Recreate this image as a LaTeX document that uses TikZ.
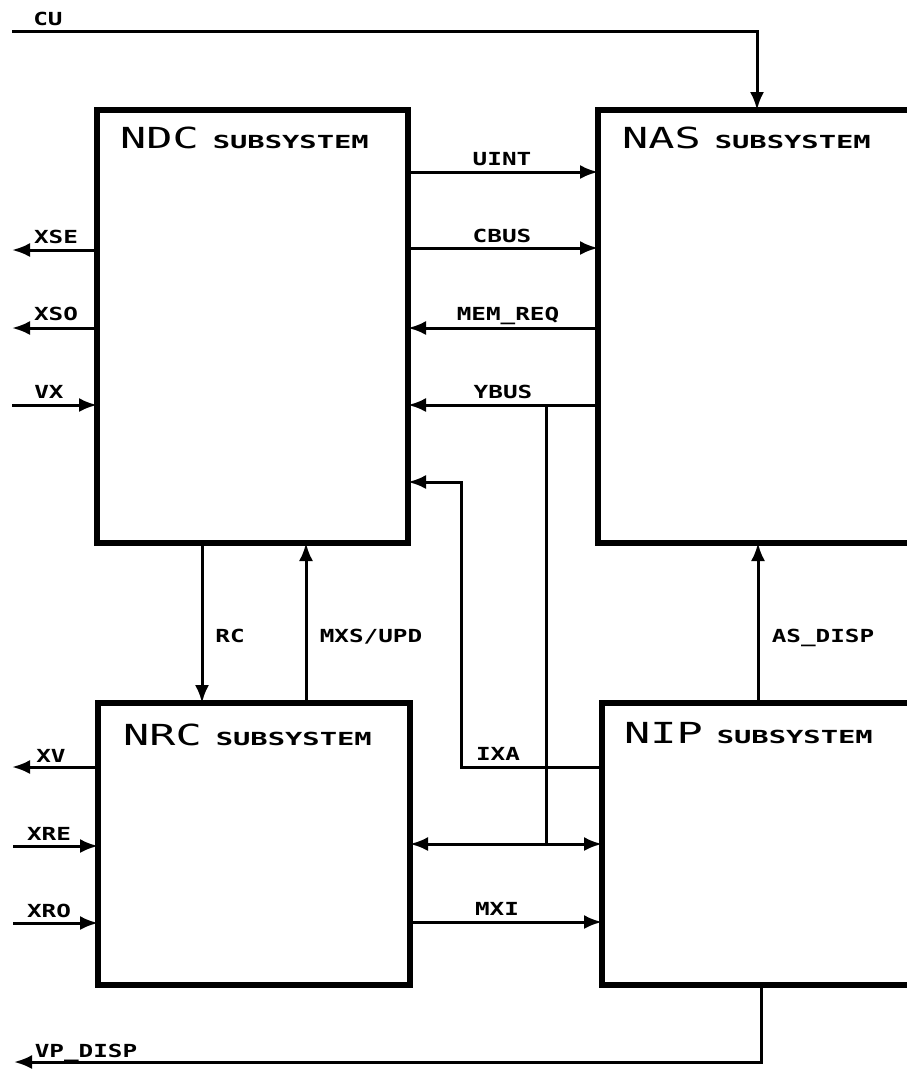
\documentclass[tikz,border=0pt]{standalone}
\usepackage{fontspec}
\usepackage{graphicx}
\usetikzlibrary{arrows.meta}
\newfontfamily\monofont{DejaVu Sans Mono}
\newcommand\ttl[1]{\scalebox{1.5}[1]{\fontsize{29}{30}\selectfont\monofont #1}}
\newcommand\subsy{\scalebox{1.6}[1]{\fontsize{18}{19}\selectfont\monofont\bfseries SUBSYSTEM}}
\newcommand\lbl[1]{\scalebox{1.35}[1]{\fontsize{18}{19}\selectfont\monofont\bfseries #1}}
\begin{document}
\begin{tikzpicture}[x=1pt,y=-1pt,
  box/.style={draw,line width=5.5pt,minimum width=#1,inner sep=0pt,outer sep=0pt},
  wire/.style={line width=3pt},
  arr/.style={wire,-{Latex[length=18pt,width=14pt]}},
  biarr/.style={wire,{Latex[length=18pt,width=14pt]}-{Latex[length=18pt,width=14pt]}},
  lab/.style={anchor=base,inner sep=0pt},
  title/.style={anchor=base west,inner sep=0pt}]
\useasboundingbox (0,0) rectangle (907,1069);
% boxes
\node[box=311pt,minimum height=433pt] (ndc) at (252.5,326.5) {};
\node[box=332pt,minimum height=433pt] (nas) at (764,326.5) {};
\node[box=312pt,minimum height=282pt] (nrc) at (254,844) {};
\node[box=328pt,minimum height=282pt] (nip) at (766,844) {};
% titles
\node[title] (ndct) at (120,148) {\ttl{NDC}\hspace{14pt}\subsy};
\node[title] (nast) at (622,148) {\ttl{NAS}\hspace{14pt}\subsy};
\node[title] (nrct) at (123,745) {\ttl{NRC}\hspace{14pt}\subsy};
\node[title] (nipt) at (624,743) {\ttl{NIP}\hspace{14pt}\subsy};
% level coordinates
\coordinate (cuL) at (12,31);
\coordinate (cuC) at (757,31);
\coordinate (yUINT) at (0,172);
\coordinate (yCBUS) at (0,248);
\coordinate (yXSE) at (0,250);
\coordinate (yMEM) at (0,328);
\coordinate (yYBUS) at (0,405);
\coordinate (yIXAin) at (0,482);
\coordinate (xRC) at (202,0);
\coordinate (xMXS) at (306,0);
\coordinate (xAS) at (758,0);
\coordinate (xUP) at (761,0);
\coordinate (yXV) at (0,767);
\coordinate (yBI) at (0,844);
\coordinate (yXRE) at (0,846);
\coordinate (yMXI) at (0,922);
\coordinate (yXRO) at (0,923);
\coordinate (xsoL) at (12,328);
\coordinate (xseL) at (12,250);
\coordinate (uxL) at (12,405);
\coordinate (xvL) at (12,767);
\coordinate (xreL) at (13,846);
\coordinate (xroL) at (13,923);
\coordinate (upY) at (761,1062);
\coordinate (upL) at (14,1062);
\coordinate (ybT) at (546,405);
\coordinate (ybB) at (546,844);
\coordinate (ixaA) at (461,767);
\coordinate (ixaB) at (461,482);
% CU
\draw[arr] (cuL) -- (cuC) -- (cuC |- nas.north);
% NDC <-> NAS
\draw[arr] (ndc.east |- yUINT) -- (nas.west |- yUINT);
\draw[arr] (ndc.east |- yCBUS) -- (nas.west |- yCBUS);
\draw[arr] (nas.west |- yMEM) -- (ndc.east |- yMEM);
\draw[arr] (nas.west |- yYBUS) -- (ndc.east |- yYBUS);
\draw[wire] (ybT) -- (ybB);
% NDC left side
\draw[arr] (ndc.west |- yXSE) -- (xseL);
\draw[arr] (ndc.west |- yMEM) -- (xsoL);
\draw[arr] (uxL) -- (ndc.west |- yYBUS);
% NDC <-> NRC
\draw[arr] (xRC |- ndc.south) -- (xRC |- nrc.north);
\draw[arr] (xMXS |- nrc.north) -- (xMXS |- ndc.south);
% NIP -> NAS
\draw[arr] (xAS |- nip.north) -- (xAS |- nas.south);
% IXA
\draw[arr] (nip.west |- yXV) -- (ixaA) -- (ixaB) -- (ndc.east |- yIXAin);
% NRC <-> NIP
\draw[biarr] (nrc.east |- yBI) -- (nip.west |- yBI);
\draw[arr] (nrc.east |- yMXI) -- (nip.west |- yMXI);
% NRC left side
\draw[arr] (nrc.west |- yXV) -- (xvL);
\draw[arr] (xreL) -- (nrc.west |- yXRE);
\draw[arr] (xroL) -- (nrc.west |- yXRO);
% VP_DISP
\draw[arr] (xUP |- nip.south) -- (upY) -- (upL);
% labels
\node[lab] (lcu) at (48,25) {\lbl{CU}};
\node[lab] (luint) at (502,165) {\lbl{UINT}};
\node[lab] (lcbus) at (502,242) {\lbl{CBUS}};
\node[lab] (lxse) at (56,243) {\lbl{XSE}};
\node[lab] (lxso) at (56,320) {\lbl{XSO}};
\node[lab] (lux) at (49,398) {\lbl{VX}};
\node[lab] (lmem) at (508,320) {\lbl{MEM\_REQ}};
\node[lab] (lybus) at (503,398) {\lbl{YBUS}};
\node[lab] (lrc) at (230,642) {\lbl{RC}};
\node[lab] (lmxs) at (371,642) {\lbl{MXS/UPD}};
\node[lab] (las) at (823,642) {\lbl{AS\_DISP}};
\node[lab] (lixa) at (498,760) {\lbl{IXA}};
\node[lab] (lmxi) at (497,915) {\lbl{MXI}};
\node[lab] (lxv) at (51,762) {\lbl{XV}};
\node[lab] (lxre) at (49,840) {\lbl{XRE}};
\node[lab] (lxro) at (49,917) {\lbl{XRO}};
\node[lab] (lup) at (86,1057) {\lbl{VP\_DISP}};
\end{tikzpicture}
\end{document}
